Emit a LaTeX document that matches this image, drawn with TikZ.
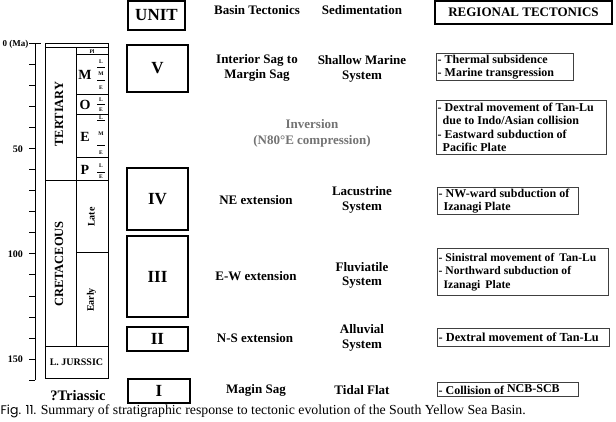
\documentclass[tikz,border=0pt]{standalone}
\usepackage{fontspec}
\setmainfont{Liberation Serif}
\newfontfamily\capsans{Poppins}
\begin{document}
\begin{tikzpicture}[x=1pt,y=-1pt,
  every node/.style={inner sep=0pt},
  unitbox/.style={draw, line width=1.5pt, minimum width=61pt, font=\fontsize{17}{17}\selectfont\bfseries},
  midtxt/.style={font=\fontsize{13}{14.5}\selectfont\bfseries, align=center},
  regbox/.style={draw=black!75, line width=0.9pt, anchor=north west},
  regtext/.style={anchor=west, align=left, font=\fontsize{12}{13.3}\selectfont\bfseries},
  colline/.style={line width=1pt},
  sub/.style={font=\fontsize{5.5}{5.5}\selectfont\bfseries},
  epochtxt/.style={font=\fontsize{14}{14}\selectfont\bfseries},
  periodtxt/.style={font=\fontsize{12.5}{12.5}\selectfont\bfseries, rotate=90},
  agetxt/.style={font=\fontsize{10}{10}\selectfont\bfseries, rotate=90},
  axlab/.style={font=\fontsize{10}{10}\selectfont\bfseries, anchor=east},
  invtxt/.style={font=\fontsize{13}{16}\selectfont\bfseries, text=black!55, align=center}
]
\useasboundingbox (0,0) rectangle (616,422);

% ---------- time axis ----------
\coordinate (axtop) at (35,44);
\coordinate (axbot) at (35,380);
\draw[line width=1pt] (axtop) -- (axbot);
\draw[line width=1pt] (29,44) -- (41,44);
\foreach \k in {1,...,16} {
  \draw[line width=1pt] (29,44+21*\k) -- (35,44+21*\k);
}
\node[axlab, font=\fontsize{9}{9}\selectfont\bfseries] (l0) at (28.5,44) {0 (Ma)};
\node[axlab] (l50) at (23,149) {50};
\node[axlab] (l100) at (23,254.5) {100};
\node[axlab] (l150) at (23,359.5) {150};

% ---------- stratigraphic column ----------
\draw[colline] (45,43.5) rectangle (108,378.3);
\draw[colline] (45,48) -- (108,48);
\draw[colline] (76,48) -- (76,346.7);
\draw[colline] (76,54.5) -- (108,54.5);
\draw[colline] (76,94.5) -- (108,94.5);
\draw[colline] (76,115) -- (108,115);
\draw[colline] (76,158) -- (108,158);
\draw[colline] (45,180.7) -- (108,180.7);
\draw[colline] (76,252.7) -- (108,252.7);
\draw[colline] (45,346.7) -- (108,346.7);
\foreach \yy in {67,80,104.5,120,145,172} {
  \draw[line width=0.6pt] (97,\yy) -- (105,\yy);
}
\node[sub] (pl) at (92,51.3) {Pl};
\node[sub] (mL) at (101,62) {L};
\node[sub] (mM) at (101,73.5) {M};
\node[sub] (mE) at (101,87.5) {E};
\node[sub] (oL) at (101,99.5) {L};
\node[sub] (oE) at (101,109.5) {E};
\node[sub] (eL) at (101,117.5) {L};
\node[sub] (eM) at (101,134) {M};
\node[sub] (eE) at (101,152.5) {E};
\node[sub] (pL) at (101,165.5) {L};
\node[sub] (pE) at (101,177) {E};
\node[epochtxt] (M) at (85,74.5) {M};
\node[epochtxt] (O) at (85,105) {O};
\node[epochtxt] (E) at (85,136.5) {E};
\node[epochtxt] (P) at (85,169.5) {P};
\node[periodtxt] (tert) at (59,114) {TERTIARY};
\node[periodtxt] (cret) at (59,264) {CRETACEOUS};
\node[agetxt] (late) at (91.5,217) {Late};
\node[agetxt] (early) at (91.5,300) {Early};
\node[font=\fontsize{10}{10}\selectfont\bfseries] (jur) at (76.5,362.5) {L. JURSSIC};
\node[font=\fontsize{14.5}{14.5}\selectfont\bfseries] (tri) at (78,395.5) {?Triassic};

% ---------- header ----------
\node[unitbox, minimum width=57pt, minimum height=29pt] (unit) at (156.5,15.5) {UNIT};
\node[midtxt] (hbasin) at (257,10) {Basin Tectonics};
\node[midtxt] (hsed) at (362,10) {Sedimentation};
\node[draw, line width=1.4pt, minimum width=177pt, minimum height=23pt, font=\fontsize{13}{13}\selectfont\bfseries] (rhead) at (523.5,12.5) {REGIONAL TECTONICS};

% ---------- unit V ----------
\node[unitbox, minimum height=47pt] (uV) at (157.5,68.5) {V};
\node[midtxt] (bV) at (257,68) {Interior Sag to\\Margin Sag};
\node[midtxt] (sV) at (362,69) {Shallow Marine\\System};
\node[regbox, minimum width=137pt, minimum height=27pt] (rV) at (436,53) {};
\node[regtext] (tV) at ([xshift=1.5pt]rV.west) {- Thermal subsidence\\- Marine transgression};

% ---------- inversion ----------
\node[invtxt] (inv) at (312,133.5) {Inversion\\(N80\textdegree E compression)};
\node[regbox, minimum width=170pt, minimum height=54pt] (rInv) at (436,100) {};
\node[regtext] (tInv) at ([xshift=1.5pt]rInv.west) {- Dextral movement of Tan-Lu\\\hspace*{5pt}due to Indo/Asian collision\\- Eastward subduction of\\\hspace*{5pt}Pacific Plate};

% ---------- unit IV ----------
\node[unitbox, minimum height=62pt] (uIV) at (157.5,199) {IV};
\node[midtxt] (bIV) at (256,200) {NE extension};
\node[midtxt] (sIV) at (362,200) {Lacustrine\\System};
\node[regbox, minimum width=141pt, minimum height=27pt] (rIV) at (437,187) {};
\node[regtext] (tIV) at ([xshift=1.5pt]rIV.west) {- NW-ward subduction of\\\hspace*{5pt}Izanagi Plate};

% ---------- unit III ----------
\node[unitbox, minimum height=81pt] (uIII) at (157.5,276.5) {III};
\node[midtxt] (bIII) at (256,276) {E-W extension};
\node[midtxt] (sIII) at (362,275.5) {Fluviatile\\System};
\node[regbox, minimum width=171pt, minimum height=47pt] (rIII) at (437,248) {};
\node[regtext, font=\fontsize{11.6}{13.3}\selectfont\bfseries] (tIII) at ([xshift=1.5pt]rIII.west) {- Sinistral movement of\hspace{5pt}Tan-Lu\\- Northward subduction of\\\hspace*{5pt}Izanagi\hspace{5pt}Plate};

% ---------- unit II ----------
\node[unitbox, minimum height=24pt] (uII) at (157.5,339) {II};
\node[midtxt] (bII) at (255,338) {N-S extension};
\node[midtxt] (sII) at (362,338) {Alluvial\\System};
\node[regbox, minimum width=172pt, minimum height=18pt] (rII) at (437,328) {};
\node[regtext, font=\fontsize{12.3}{13}\selectfont\bfseries] (tII) at ([xshift=1.5pt]rII.west) {- Dextral movement of Tan-Lu};

% ---------- unit I ----------
\node[unitbox, minimum width=62pt, minimum height=24pt] (uI) at (159,391) {I};
\node[midtxt] (bI) at (256,390) {Magin Sag};
\node[midtxt] (sI) at (362,390) {Tidal Flat};
\node[regbox, minimum width=141pt, minimum height=14pt] (rI) at (437,382) {};
\node[regtext] (tI) at ([xshift=1.5pt]rI.west) {- Collision of \raisebox{2pt}{NCB-SCB}};

% ---------- caption ----------
\node[anchor=west, font=\fontsize{13.8}{14}\selectfont] (cap) at (0.5,411) {{\capsans\fontsize{12.5}{12.5}\selectfont Fig. 11.} Summary of stratigraphic response to tectonic evolution of the South Yellow Sea Basin.};
\end{tikzpicture}
\end{document}
